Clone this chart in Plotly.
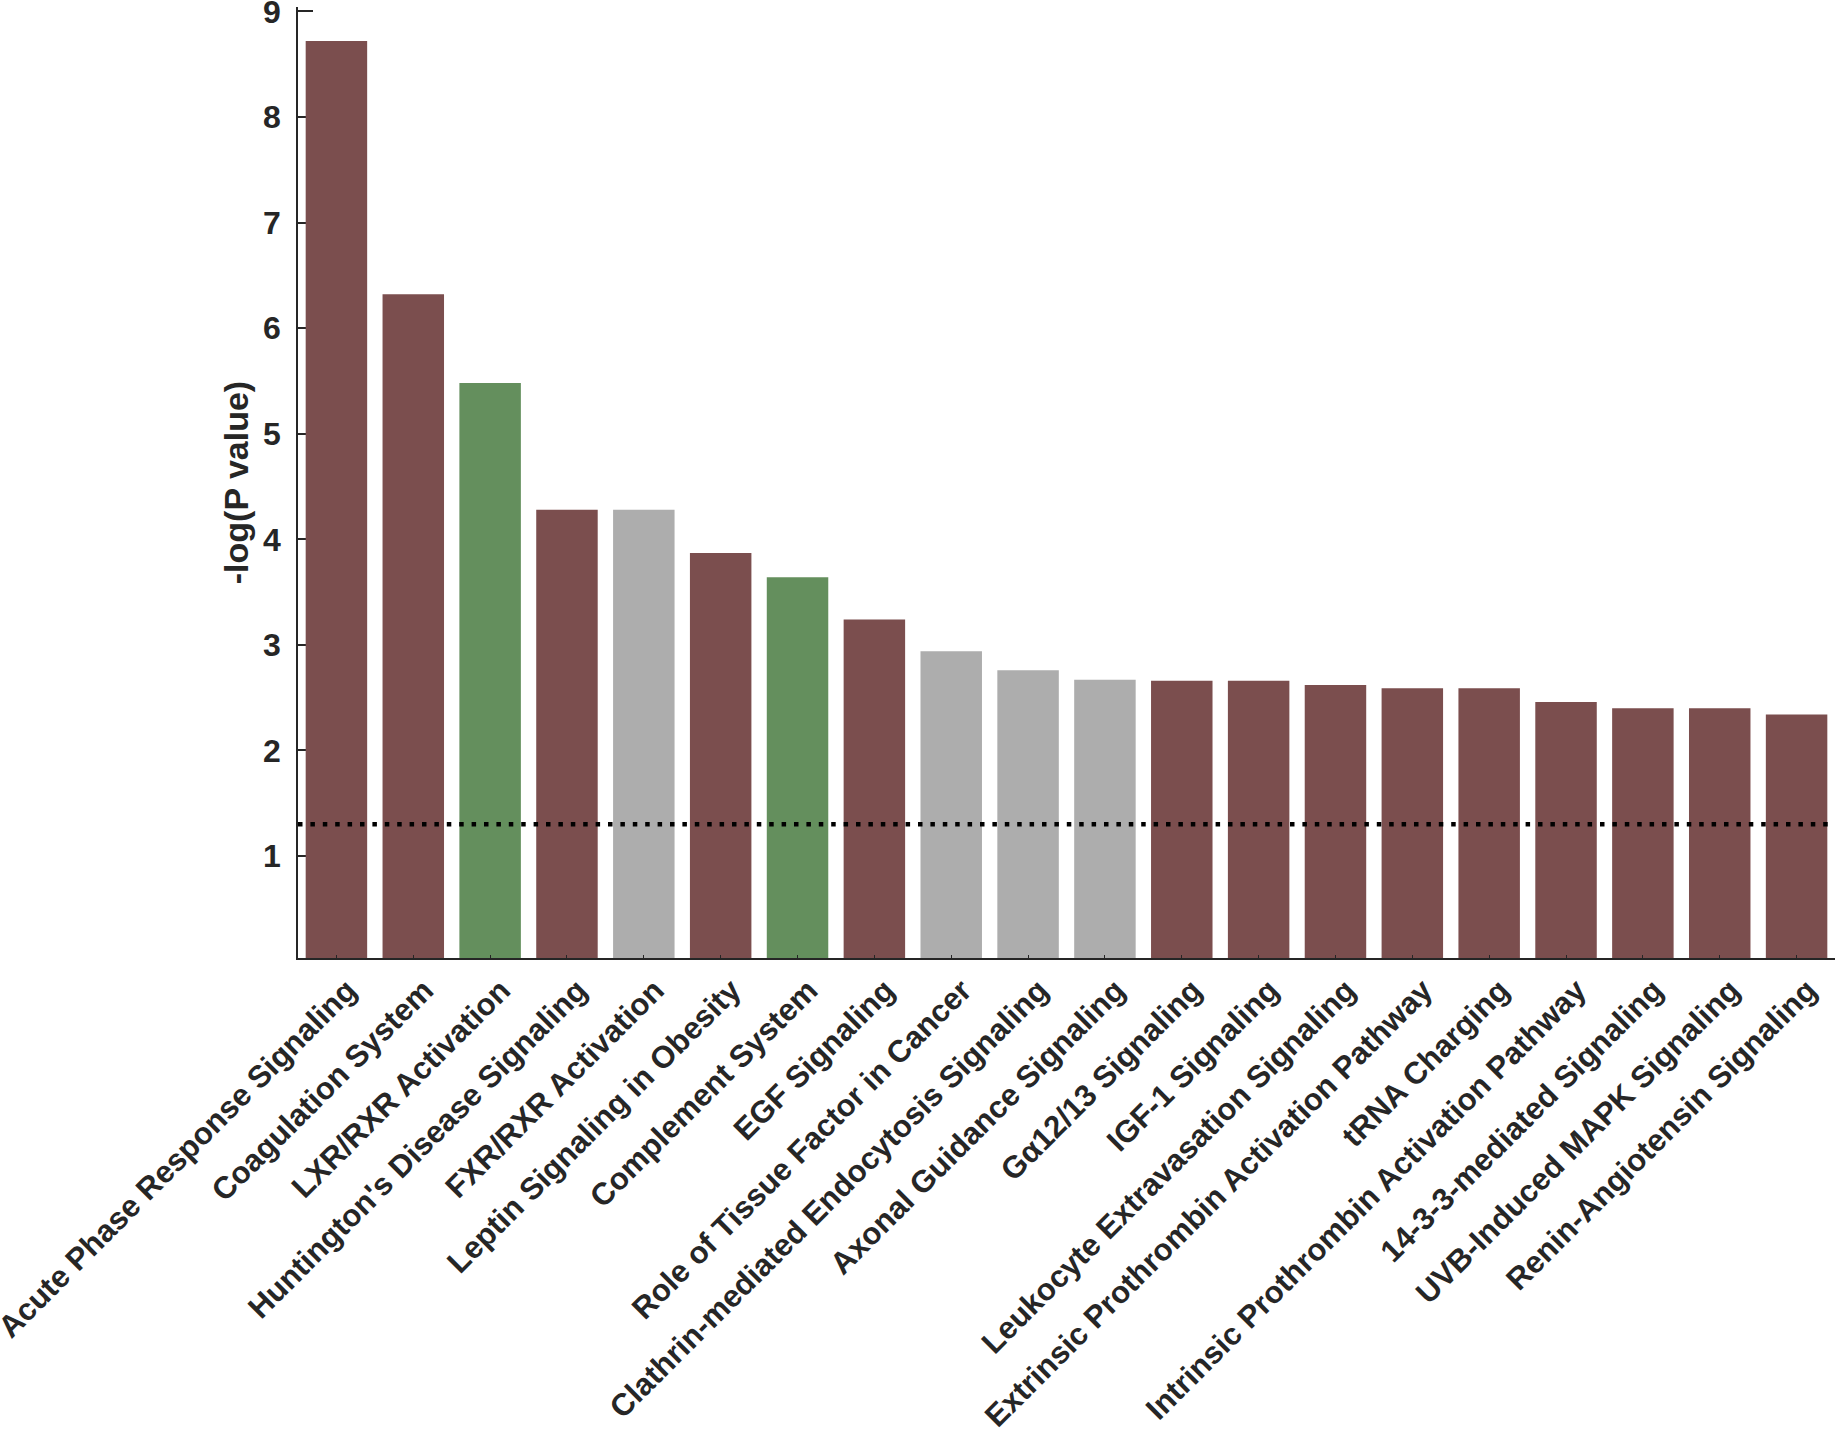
import plotly.graph_objects as go

categories = [
    "Acute Phase Response Signaling",
    "Coagulation System",
    "LXR/RXR Activation",
    "Huntington's Disease Signaling",
    "FXR/RXR Activation",
    "Leptin Signaling in Obesity",
    "Complement System",
    "EGF Signaling",
    "Role of Tissue Factor in Cancer",
    "Clathrin-mediated Endocytosis Signaling",
    "Axonal Guidance Signaling",
    "Gα12/13 Signaling",
    "IGF-1 Signaling",
    "Leukocyte Extravasation Signaling",
    "Extrinsic Prothrombin Activation Pathway",
    "tRNA Charging",
    "Intrinsic Prothrombin Activation Pathway",
    "14-3-3-mediated Signaling",
    "UVB-Induced MAPK Signaling",
    "Renin-Angiotensin Signaling",
]
values = [8.72, 6.32, 5.48, 4.28, 4.28, 3.87, 3.64, 3.24, 2.94, 2.76,
          2.67, 2.66, 2.66, 2.62, 2.59, 2.59, 2.46, 2.40, 2.40, 2.34]
groups = ["up", "up", "down", "up", "none", "up", "down", "up", "none", "none",
          "none", "up", "up", "up", "up", "up", "up", "up", "up", "up"]
threshold = 1.301
yticks = [1, 2, 3, 4, 5, 6, 7, 8, 9]

palette = {"up": "#7B4E4E", "down": "#648F5D", "none": "#ADADAD"}
colors = [palette[g] for g in groups]
x = list(range(1, len(categories) + 1))

font_color = "#262626"
fig = go.Figure()
fig.add_trace(go.Bar(x=x, y=values, marker=dict(color=colors, line=dict(width=0)),
                     width=0.8, showlegend=False))

fig.add_shape(type="line", xref="paper", x0=0, x1=1, yref="y", y0=threshold, y1=threshold,
              line=dict(color="black", width=4.5, dash="4.5px,7.9px"), layer="above")

fig.update_layout(
    template="none",
    width=1837, height=1430,
    margin=dict(l=298, r=2, t=7, b=472, autoexpand=False),
    plot_bgcolor="white", paper_bgcolor="white",
    font=dict(family="Liberation Sans", color=font_color, size=30),
)
fig.update_xaxes(
    range=[0.5, 20.5], tickmode="array", tickvals=x, ticktext=categories,
    tickangle=-45, ticks="inside", ticklen=3, tickcolor=font_color,
    showline=True, linecolor=font_color, linewidth=1.5, showgrid=False, zeroline=False,
    tickfont=dict(family="Liberation Sans", size=31, weight="bold", color=font_color),
    ticklabelshift=11,
    layer="above traces", automargin=False, ticklabeloverflow="allow",
)
fig.update_yaxes(
    range=[0.034, 9.042], tickmode="array", tickvals=yticks,
    ticks="inside", ticklen=15, tickcolor=font_color, tickwidth=1.5,
    showline=True, linecolor=font_color, linewidth=1.5, showgrid=False, zeroline=False,
    tickfont=dict(family="Liberation Sans", size=32, weight="bold", color=font_color),
    ticklabelstandoff=9, automargin=False, ticklabeloverflow="allow",
    title=dict(text="-log(P value)", standoff=4,
               font=dict(family="Liberation Sans", size=34, weight="bold", color=font_color)),
    layer="below traces",
)

fig.write_html("out.html", config={"displayModeBar": False},
               post_script="document.body.style.margin='0';")
